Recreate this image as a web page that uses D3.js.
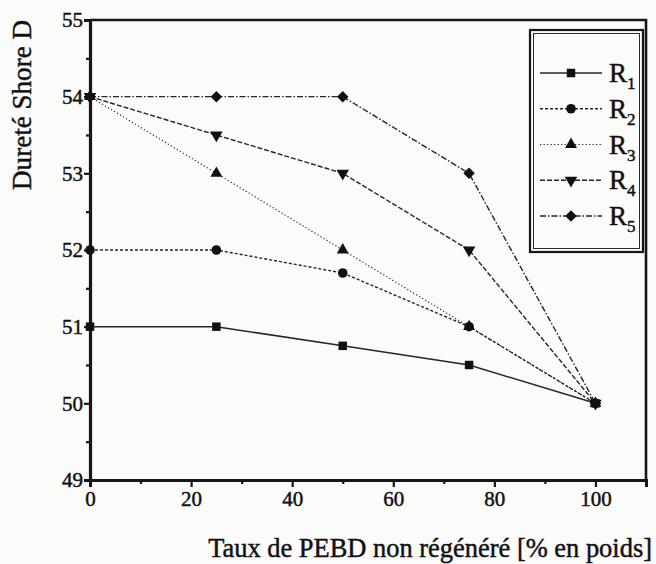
<!DOCTYPE html>
<html>
<head>
<meta charset="utf-8">
<script src="https://cdn.jsdelivr.net/npm/d3@7"></script>
<style>
  html, body { margin: 0; padding: 0; background: #fbfbfa; }
  svg { display: block; }
  svg text { font-family: "Liberation Serif", "Times New Roman", Tinos, "DejaVu Serif", "Noto Serif", FreeSerif, serif !important; fill: #111; stroke: #111; stroke-width: 0.45px; }
</style>
</head>
<body>
<svg id="chart" width="656" height="564"></svg>
<script>
// Shore D hardness vs. share of non-regenerated LDPE
const xValues = [0, 25, 50, 75, 100];
const r1 = [51, 51, 50.75, 50.5, 50];
const r2 = [52, 52, 51.7, 51, 50];
const r3 = [54, 53, 52, 51, 50];
const r4 = [54, 53.5, 53, 52, 50];
const r5 = [54, 54, 54, 53, 50];
const seriesNames = ["R1", "R2", "R3", "R4", "R5"];
const xMajorTicks = [0, 20, 40, 60, 80, 100];
const xMinorTicks = [10, 30, 50, 70, 90];
const yMajorTicks = [49, 50, 51, 52, 53, 54, 55];
const yMinorTicks = [49.5, 50.5, 51.5, 52.5, 53.5, 54.5];

const series = [
  { name: seriesNames[0], values: r1, symbol: d3.symbolSquare, size: 72, rot: 0, dash: null, width: 1.5 },
  { name: seriesNames[1], values: r2, symbol: d3.symbolCircle, size: 72, rot: 0, dash: "3,2", width: 1.4 },
  { name: seriesNames[2], values: r3, symbol: d3.symbolTriangle, size: 62, rot: 0, dash: "1.3,2.2", width: 1.1 },
  { name: seriesNames[3], values: r4, symbol: d3.symbolTriangle, size: 68, rot: 180, dash: "5,2", width: 1.4 },
  { name: seriesNames[4], values: r5, symbol: d3.symbolSquare, size: 66, rot: 45, dash: "6,2,1.5,2", width: 1.4 }
];

const svg = d3.select("#chart");
const mLeft = 90, mRight = 646, mTop = 20, mBottom = 480;

const x = d3.scaleLinear().domain([0, 110]).range([mLeft, mRight]);
const y = d3.scaleLinear().domain([49, 55]).range([mBottom, mTop]);

const ink = "#161616";

// frame: top and right edges
svg.append("path")
  .attr("d", `M${mLeft},${mTop}H${mRight}V${mBottom}`)
  .attr("fill", "none").attr("stroke", ink).attr("stroke-width", 2.6);

// x axis
const xAxis = svg.append("g").attr("transform", `translate(0,${mBottom})`)
  .call(d3.axisBottom(x).tickValues(xMajorTicks).tickSize(7).tickPadding(4).tickFormat(d3.format("d")));
xAxis.attr("font-family", null);
xAxis.select(".domain").attr("stroke", ink).attr("stroke-width", 3);
xAxis.selectAll(".tick line").attr("stroke", ink).attr("stroke-width", 2.2);
xAxis.selectAll(".tick text").style("font-size", "21px").attr("fill", "#111");
svg.append("g").attr("transform", `translate(0,${mBottom})`)
  .call(d3.axisBottom(x).tickValues(xMinorTicks).tickSize(4).tickFormat(""))
  .call(g => g.select(".domain").remove())
  .selectAll(".tick line").attr("stroke", ink).attr("stroke-width", 2.2);

// y axis
const yAxis = svg.append("g").attr("transform", `translate(${mLeft},0)`)
  .call(d3.axisLeft(y).tickValues(yMajorTicks).tickSize(6).tickPadding(1).tickFormat(d3.format("d")));
yAxis.attr("font-family", null);
yAxis.select(".domain").attr("stroke", ink).attr("stroke-width", 3.2);
yAxis.selectAll(".tick line").attr("stroke", ink).attr("stroke-width", 2.2);
yAxis.selectAll(".tick text").style("font-size", "21px").attr("fill", "#111");
svg.append("g").attr("transform", `translate(${mLeft},0)`)
  .call(d3.axisLeft(y).tickValues(yMinorTicks).tickSize(4).tickFormat(""))
  .call(g => g.select(".domain").remove())
  .selectAll(".tick line").attr("stroke", ink).attr("stroke-width", 2.2);

// series lines and markers
const line = d3.line().x((d, i) => x(xValues[i])).y(d => y(d));
const plot = svg.append("g");
series.forEach(s => {
  plot.append("path")
    .datum(s.values)
    .attr("d", line)
    .attr("fill", "none")
    .attr("stroke", "#262626")
    .attr("stroke-width", s.width)
    .attr("stroke-dasharray", s.dash);
});
series.forEach(s => {
  plot.selectAll(null)
    .data(s.values)
    .join("path")
    .attr("d", d3.symbol(s.symbol, s.size))
    .attr("transform", (d, i) => `translate(${x(xValues[i])},${y(d)}) rotate(${s.rot})`)
    .attr("fill", "#111");
});

// axis titles, sized to span their lengths
const yTitle = svg.append("text")
  .attr("transform", `translate(31,${mTop}) rotate(-90)`)
  .attr("text-anchor", "end")
  .style("font-size", "20px")
  .text("Dureté Shore D");
const yLen = yTitle.node().getComputedTextLength();
yTitle.style("font-size", (20 * 170 / yLen) + "px");

const xTitle = svg.append("text")
  .attr("x", 652).attr("y", 557)
  .attr("text-anchor", "end")
  .style("font-size", "20px")
  .text("Taux de PEBD non régénéré [% en poids]");
const xLen = xTitle.node().getComputedTextLength();
xTitle.style("font-size", (20 * 444 / xLen) + "px");

// legend with a double border
const lg = svg.append("g");
lg.append("rect").attr("x", 530).attr("y", 30).attr("width", 113).attr("height", 222)
  .attr("fill", "#fbfbfa").attr("stroke", ink).attr("stroke-width", 2.2);
lg.append("rect").attr("x", 533.5).attr("y", 33.5).attr("width", 106).attr("height", 215)
  .attr("fill", "none").attr("stroke", ink).attr("stroke-width", 0.9);
const rowY = d3.scalePoint().domain(seriesNames).range([73, 216]);
series.forEach(s => {
  const yy = rowY(s.name);
  lg.append("line").attr("x1", 540).attr("x2", 602).attr("y1", yy).attr("y2", yy)
    .attr("stroke", "#262626").attr("stroke-width", s.width).attr("stroke-dasharray", s.dash);
  lg.append("path").attr("d", d3.symbol(s.symbol, s.size))
    .attr("transform", `translate(571,${yy}) rotate(${s.rot})`).attr("fill", "#111");
  const t = lg.append("text").attr("x", 609).attr("y", yy + 9).style("font-size", "27px");
  t.append("tspan").text(s.name[0]);
  t.append("tspan").attr("dy", 7).style("font-size", "17px").text(s.name.slice(1));
});
</script>
</body>
</html>
